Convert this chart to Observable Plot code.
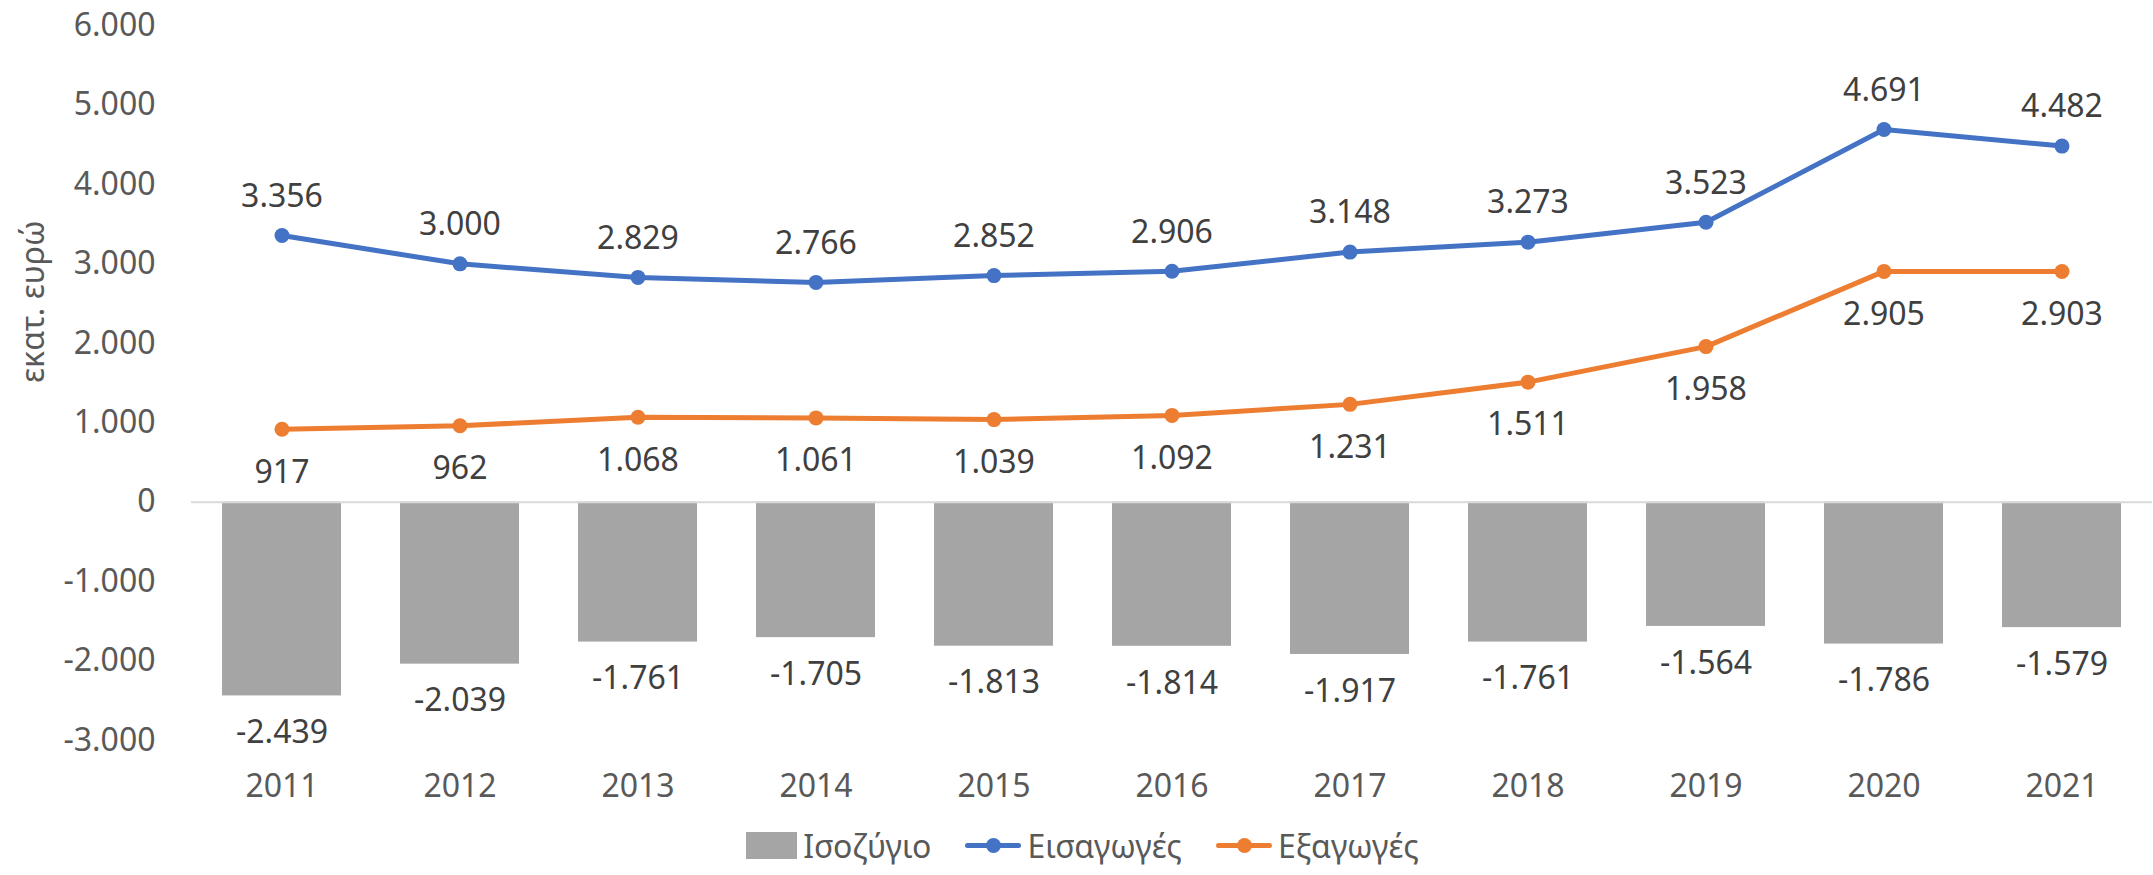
<!DOCTYPE html>
<html>
<head>
<meta charset="utf-8">
<script src="https://cdn.jsdelivr.net/npm/d3@7"></script>
<script src="https://cdn.jsdelivr.net/npm/@observablehq/plot@0.6"></script>
<style>
  body { margin: 0; background: #fff; font-family: "Noto Sans", sans-serif; }
  #legend { display: flex; justify-content: center; align-items: center; height: 60px; font-size: 32px; color: #595959; gap: 34px; padding-left: 12px; }
  .item { display: flex; align-items: center; gap: 6px; }
  .sq { width: 51px; height: 27px; background: #A5A5A5; }
  .ln { position: relative; width: 56px; height: 5px; border-radius: 3px; }
  .ln::after { content: ""; position: absolute; left: 21px; top: -5px; width: 15px; height: 15px; border-radius: 50%; background: inherit; }
</style>
</head>
<body>
<div id="chart"></div>
<div id="legend">
  <div class="item"><div class="sq"></div><span>Ισοζύγιο</span></div>
  <div class="item"><div class="ln" style="background:#4472C4"></div><span>Εισαγωγές</span></div>
  <div class="item"><div class="ln" style="background:#ED7D31"></div><span>Εξαγωγές</span></div>
</div>
<script>
const years = ["2011","2012","2013","2014","2015","2016","2017","2018","2019","2020","2021"];
const imports = [3356, 3000, 2829, 2766, 2852, 2906, 3148, 3273, 3523, 4691, 4482];
const exportsV = [917, 962, 1068, 1061, 1039, 1092, 1231, 1511, 1958, 2905, 2903];
const balance = [-2439, -2039, -1761, -1705, -1813, -1814, -1917, -1761, -1564, -1786, -1579];
const yTicks = [-3000, -2000, -1000, 0, 1000, 2000, 3000, 4000, 5000, 6000];
const yLabel = "εκατ. ευρώ";

const locale = d3.formatLocale({decimal: ",", thousands: ".", grouping: [3], currency: ["", "€"], minus: "-"});
const fmt = locale.format(",d");

const rows = years.map((y, i) => ({year: y, imp: imports[i], exp: exportsV[i], bal: balance[i]}));

const chart = Plot.plot({
  width: 2153,
  height: 815,
  marginTop: 25,
  marginBottom: 75,
  marginLeft: 191,
  marginRight: 1,
  style: {fontFamily: "Noto Sans", fontSize: "32px", color: "#595959", background: "white"},
  x: {type: "band", domain: years, paddingInner: 0.333, paddingOuter: 0.1667, label: null, tickSize: 0, tickPadding: 34},
  y: {domain: [-3000, 6000], ticks: yTicks, tickFormat: fmt, label: null, tickSize: 0, tickPadding: 36},
  marks: [
    Plot.barY(rows, {x: "year", y: "bal", fill: "#A5A5A5"}),
    Plot.ruleY([0], {stroke: "#D9D9D9", strokeWidth: 2}),
    Plot.line(rows, {x: "year", y: "imp", stroke: "#4472C4", strokeWidth: 5}),
    Plot.line(rows, {x: "year", y: "exp", stroke: "#ED7D31", strokeWidth: 5}),
    Plot.dot(rows, {x: "year", y: "imp", fill: "#4472C4", r: 7.5}),
    Plot.dot(rows, {x: "year", y: "exp", fill: "#ED7D31", r: 7.5}),
    Plot.text(rows, {x: "year", y: "imp", text: d => fmt(d.imp), dy: -39, fill: "#404040"}),
    Plot.text(rows, {x: "year", y: "exp", text: d => fmt(d.exp), dy: 43, fill: "#404040"}),
    Plot.text(rows, {x: "year", y: "bal", text: d => fmt(d.bal), dy: 37, fill: "#404040"}),
    Plot.text([yLabel], {frameAnchor: "left", text: d => d, rotate: -90, dx: -158, fill: "#595959"})
  ]
});
document.getElementById("chart").appendChild(chart);
</script>
</body>
</html>
